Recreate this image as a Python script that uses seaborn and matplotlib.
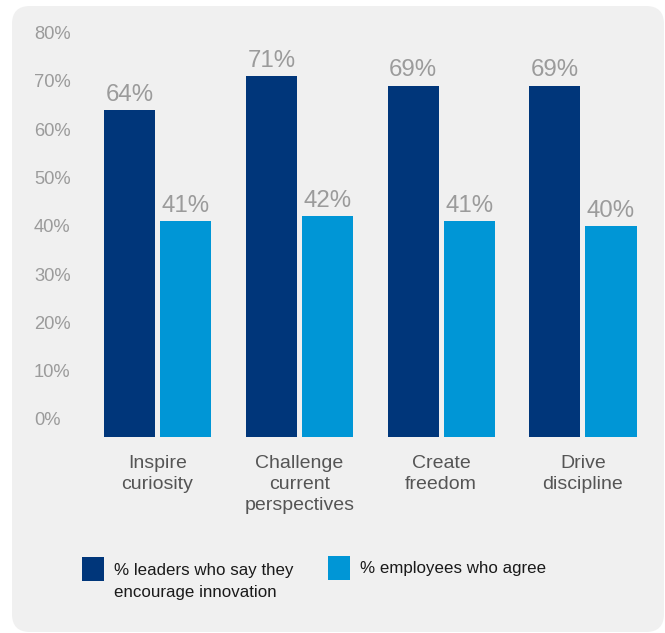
import matplotlib
matplotlib.use("Agg")
import matplotlib.pyplot as plt
from matplotlib.patches import FancyBboxPatch, Rectangle
from matplotlib.legend_handler import HandlerPatch
import seaborn as sns
import pandas as pd

categories = ["Inspire\ncuriosity", "Challenge\ncurrent\nperspectives", "Create\nfreedom", "Drive\ndiscipline"]
series_names = ["% leaders who say they\nencourage innovation", "% employees who agree"]
leaders = [64, 71, 69, 69]
employees = [41, 42, 41, 40]
yticks = [0, 10, 20, 30, 40, 50, 60, 70, 80]
ytick_labels = [f"{t}%" for t in yticks]

NAVY = "#00367A"
BLUE = "#0096D6"
BG = "#F0F0F0"

sns.set_theme(style="white")
plt.rcParams["font.family"] = ["Liberation Sans", "DejaVu Sans"]

df = pd.DataFrame({
    "category": categories * 2,
    "series": [series_names[0]] * 4 + [series_names[1]] * 4,
    "value": leaders + employees,
})

W, H = 665, 633
fig = plt.figure(figsize=(W / 100, H / 100), dpi=100)
fig.patch.set_facecolor("white")

# rounded light-gray panel
panel = FancyBboxPatch((12 / W, 1 - 632 / H), (664 - 12) / W, (632 - 6) / H,
                       boxstyle="round,pad=0,rounding_size=0.027",
                       transform=fig.transFigure, facecolor=BG, edgecolor="none",
                       mutation_aspect=W / H, zorder=-10)
fig.patches.append(panel)

ax = fig.add_axes([86.6 / W, (H - 437) / H, (653.9 - 86.6) / W, (437 - 18) / H])
ax.set_facecolor("none")
ax.set_zorder(1)

sns.barplot(data=df, x="category", y="value", hue="series", hue_order=series_names,
            order=categories, palette=[NAVY, BLUE], saturation=1, width=0.79, gap=0.089,
            linewidth=0, legend=False, ax=ax, errorbar=None)

ymin = -3.73
ax.set_xlim(-0.5, 3.5)
ax.set_ylim(ymin, 83)

for cont, vals in zip(ax.containers, [leaders, employees]):
    for p in cont.patches:
        top = p.get_y() + p.get_height()
        p.set_y(ymin)
        p.set_height(top - ymin)
    ax.bar_label(cont, labels=[f"{v}%" for v in vals], padding=3,
                 fontsize=17.3, color="#9B9B9B")

for s in ax.spines.values():
    s.set_visible(False)
ax.set_xlabel("")
ax.set_ylabel("")
ax.set_yticks(yticks)
ax.set_yticklabels(ytick_labels)
ax.tick_params(axis="y", length=0, pad=37.9, labelsize=13.2, labelcolor="#9B9B9B")
for t in ax.get_yticklabels():
    t.set_horizontalalignment("left")
ax.tick_params(axis="x", length=0, pad=13, labelsize=14, labelcolor="#555555")
for t in ax.get_xticklabels():
    t.set_linespacing(1.3)
ax.grid(False)


def shifted_patch(shift):
    def f(legend, orig_handle, xdescent, ydescent, width, height, fontsize):
        return Rectangle((-xdescent, -ydescent + shift * fontsize), width, height)
    return f

fs = 12.2
fpx = fs * 100 / 72
h1 = Rectangle((0, 0), 1, 1, facecolor=NAVY, edgecolor="none")
h2 = Rectangle((0, 0), 1, 1, facecolor=BLUE, edgecolor="none")
common = dict(frameon=False, borderpad=0, borderaxespad=0, handlelength=22 / fpx,
              handleheight=25 / fpx + 0.3, handletextpad=10 / fpx,
              fontsize=fs, loc="upper left", labelcolor="#1A1A1A")
leg1 = fig.legend(handles=[h1], labels=[series_names[0]],
                  bbox_to_anchor=(82 / W, 1 - 563 / H),
                  handler_map={h1: HandlerPatch(patch_func=shifted_patch(0.75))}, **common)
for t in leg1.get_texts():
    t.set_linespacing(1.55)
leg2 = fig.legend(handles=[h2], labels=[series_names[1]],
                  bbox_to_anchor=(328 / W, 1 - 556 / H), **common)

fig.savefig("out.png", dpi=100, facecolor="white")
